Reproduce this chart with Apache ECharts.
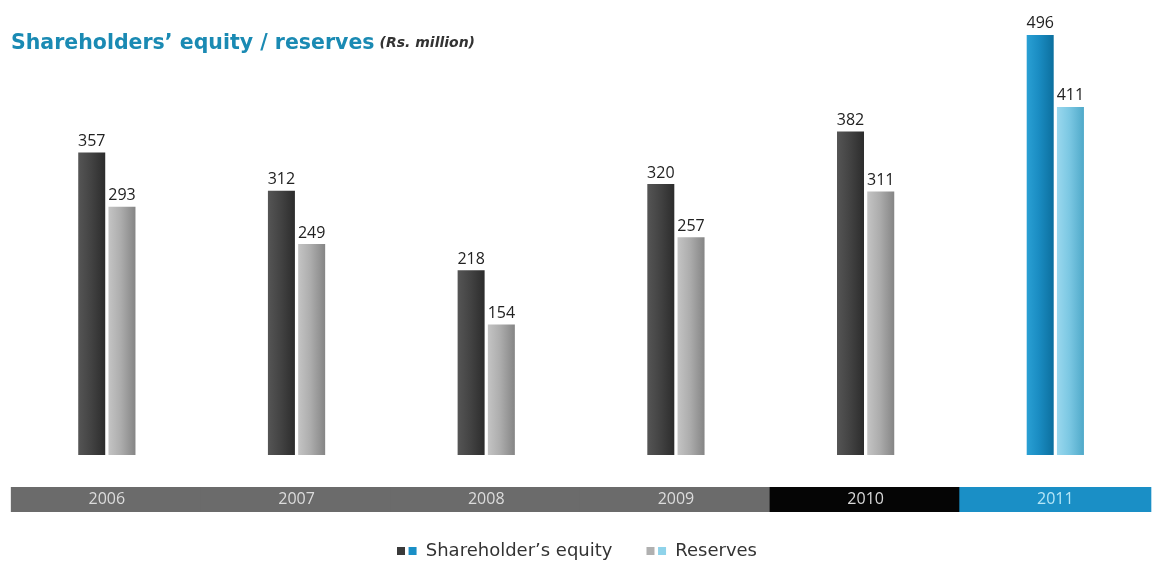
<!DOCTYPE html>
<html>
<head>
<meta charset="utf-8">
<script src="https://cdn.jsdelivr.net/npm/echarts@6/dist/echarts.min.js"></script>
<style>
  html, body { margin: 0; padding: 0; background: #fff; }
  #chart { width: 1154px; height: 567px; }
</style>
</head>
<body>
<div id="chart"></div>
<script>
var years = ['2006', '2007', '2008', '2009', '2010', '2011'];
var equity = [357, 312, 218, 320, 382, 496];
var reserves = [293, 249, 154, 257, 311, 411];
var bandStyle = ['g', 'g', 'g', 'g', 'k', 'b'];

function grad(c1, c2, c3) {
    return new echarts.graphic.LinearGradient(0, 0, 1, 0, [
        { offset: 0, color: c1 },
        { offset: 0.45, color: c2 },
        { offset: 1, color: c3 }
    ]);
}
function split(c1, c2) {
    return new echarts.graphic.LinearGradient(0, 0, 1, 0, [
        { offset: 0, color: c1 }, { offset: 0.5, color: c1 },
        { offset: 0.5, color: c2 }, { offset: 1, color: c2 }
    ]);
}

var equityData = equity.map(function (v, i) {
    var last = i === years.length - 1;
    return {
        value: v,
        itemStyle: { color: last ? grad('#2aa0d4', '#1a8cc2', '#0c6f9e') : grad('#555555', '#444444', '#2c2c2c') }
    };
});
var reservesData = reserves.map(function (v, i) {
    var last = i === years.length - 1;
    return {
        value: v,
        itemStyle: { color: last ? grad('#9ad8ee', '#7cc8e3', '#4fa9c9') : grad('#c4c4c4', '#adadad', '#858585') }
    };
});

function band(bg, fg) {
    return { backgroundColor: bg, color: fg, width: 192, height: 25, lineHeight: 25, align: 'center', fontSize: 16, fontFamily: 'Open Sans' };
}
var labelRich = {
    g: band('#6b6b6b', '#dcdcdc'),
    k: band('#050505', '#d8d8d8'),
    b: band('#1a8fc6', '#b5e6f7')
};

var valueLabel = { show: true, position: 'top', distance: 3, fontFamily: 'Open Sans', fontSize: 16, color: '#222222' };

var myChart = echarts.init(document.getElementById('chart'));
var option = {
    animation: false,
    title: {
        text: '{t|Shareholders\u2019 equity / reserves} {s|(Rs. million)}',
        left: 6,
        top: 28,
        textStyle: {
            rich: {
                t: { fontFamily: 'DejaVu Sans', fontWeight: 'bold', fontSize: 20.5, color: '#1a8ab3' },
                s: { fontFamily: 'DejaVu Sans', fontStyle: 'italic', fontSize: 14, color: '#333333' }
            }
        }
    },
    legend: {
        bottom: 2,
        left: 'center',
        itemWidth: 22,
        itemHeight: 8,
        itemGap: 34,
        textStyle: { fontFamily: 'DejaVu Sans', fontSize: 18, color: '#333333', padding: [0, 0, 0, 3] },
        data: [
            { name: 'Shareholder\u2019s equity', icon: 'path://M0,0H9V9H0Z M13,0H22V9H13Z', itemStyle: { color: split('#3a3a3a', '#1a8fc6') } },
            { name: 'Reserves', icon: 'path://M0,0H9V9H0Z M13,0H22V9H13Z', itemStyle: { color: split('#b0b0b0', '#8fd3ea') } }
        ]
    },
    grid: { left: 12, right: 0, top: 31.5, bottom: 112, containLabel: false },
    xAxis: {
        type: 'category',
        data: years,
        axisLine: { show: false },
        axisTick: { show: false },
        axisLabel: {
            margin: 32,
            interval: 0,
            formatter: function (v, i) { return '{' + bandStyle[i] + '|' + v + '}'; },
            rich: labelRich
        }
    },
    yAxis: {
        type: 'value',
        min: 0,
        max: 500,
        show: false,
        splitLine: { show: false }
    },
    series: [
        {
            name: 'Shareholder\u2019s equity',
            type: 'bar',
            barWidth: 27,
            barGap: '12%',
            data: equityData,
            label: valueLabel
        },
        {
            name: 'Reserves',
            type: 'bar',
            barWidth: 27,
            data: reservesData,
            label: valueLabel
        }
    ]
};
myChart.setOption(option);
</script>
</body>
</html>
